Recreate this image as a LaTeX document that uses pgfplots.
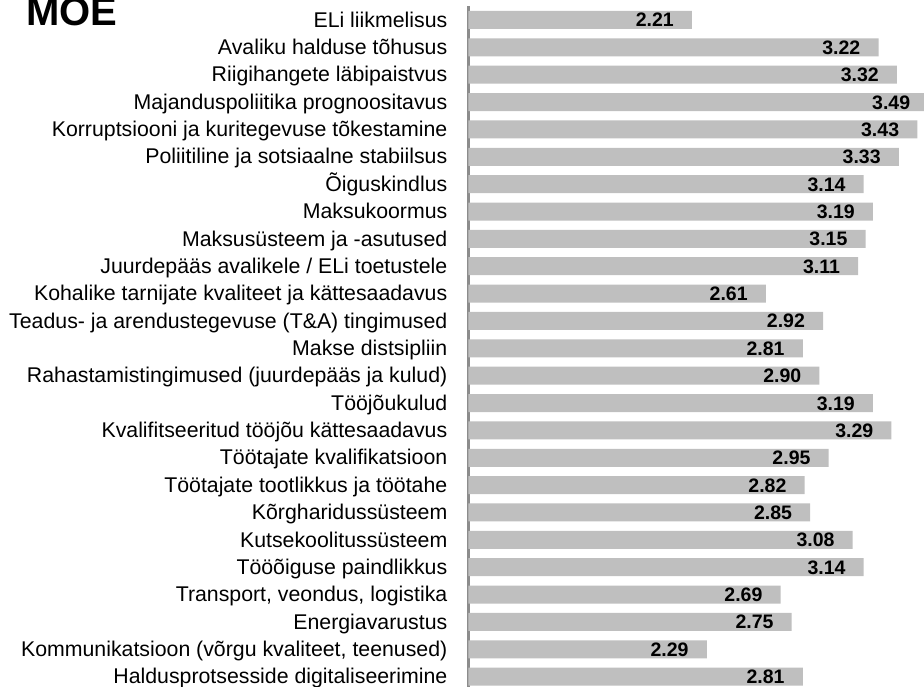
\documentclass[border=0pt]{standalone}
\usepackage{pgfplots}
\pgfplotsset{compat=1.18}
\usepackage{fontspec}
\setmainfont{Liberation Sans}
\definecolor{barcol}{HTML}{BFBFBF}
\definecolor{axcol}{HTML}{8C8C8C}
\begin{document}
\begin{tikzpicture}[x=1pt,y=1pt]
\clip (0,0) rectangle (924,-686);
\node[anchor=base west, inner sep=0pt, font=\fontsize{40}{44}\selectfont\bfseries] at (26,-25) {MOE};
\begin{axis}[
  at={(468.5pt,-6.3pt)}, anchor=north west,
  scale only axis,
  width=480.2pt, height=684pt,
  xmin=1, xmax=3.6,
  ymin=-0.5, ymax=24.5,
  y dir=reverse,
  xbar, bar width=18pt,
  axis x line=none,
  axis y line=left,
  y axis line style={-, draw=axcol, line width=2.3pt},
  ytick={0,...,24},
  major tick length=0pt,
  yticklabels={
    ELi liikmelisus,
    Avaliku halduse tõhusus,
    Riigihangete läbipaistvus,
    Majanduspoliitika prognoositavus,
    Korruptsiooni ja kuritegevuse tõkestamine,
    Poliitiline ja sotsiaalne stabiilsus,
    Õiguskindlus,
    Maksukoormus,
    Maksusüsteem ja -asutused,
    Juurdepääs avalikele / ELi toetustele,
    Kohalike tarnijate kvaliteet ja kättesaadavus,
    Teadus- ja arendustegevuse (T\&A) tingimused,
    Makse distsipliin,
    Rahastamistingimused (juurdepääs ja kulud),
    Tööjõukulud,
    Kvalifitseeritud tööjõu kättesaadavus,
    Töötajate kvalifikatsioon,
    Töötajate tootlikkus ja töötahe,
    Kõrgharidussüsteem,
    Kutsekoolitussüsteem,
    Tööõiguse paindlikkus,
    {Transport, veondus, logistika},
    Energiavarustus,
    {Kommunikatsioon (võrgu kvaliteet, teenused)},
    Haldusprotsesside digitaliseerimine},
  yticklabel style={font=\fontsize{21.3}{23}\selectfont, inner sep=0pt, anchor=base east, xshift=-21pt, yshift=-7.2pt},
  clip=false,
  nodes near coords,
  point meta=explicit,
  nodes near coords style={font=\fontsize{19.5}{21}\selectfont\bfseries, anchor=base east, inner sep=0pt, xshift=-18pt, yshift=-7pt,
    /pgf/number format/.cd, fixed, precision=2, zerofill, assume math mode=true},
]
\addplot[fill=barcol, draw=none] table[meta=x] {
x y
2.21 0
3.22 1
3.32 2
3.49 3
3.43 4
3.33 5
3.14 6
3.19 7
3.15 8
3.11 9
2.61 10
2.92 11
2.81 12
2.90 13
3.19 14
3.29 15
2.95 16
2.82 17
2.85 18
3.08 19
3.14 20
2.69 21
2.75 22
2.29 23
2.81 24
};
\end{axis}
\end{tikzpicture}
\end{document}
